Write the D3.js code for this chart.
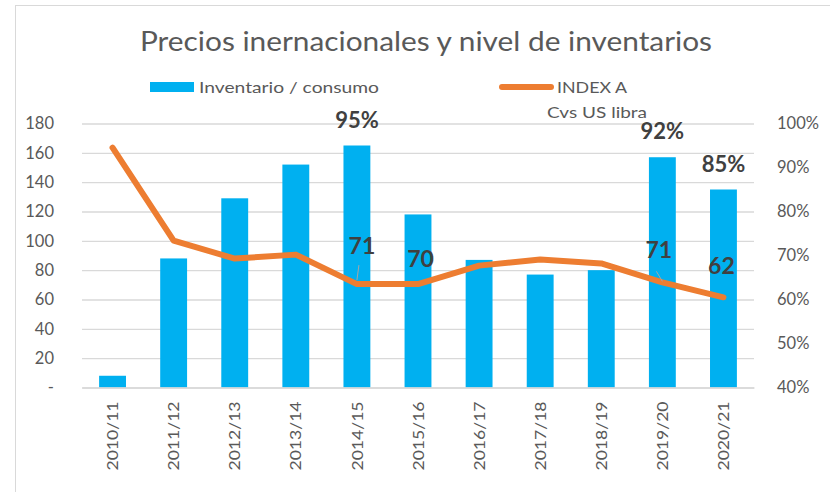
<!DOCTYPE html>
<html>
<head>
<meta charset="utf-8">
<script src="https://cdn.jsdelivr.net/npm/d3@7"></script>
<style>
  body { margin: 0; background: #fff; }
  svg { font-family: Lato, "Open Sans", sans-serif; }
</style>
</head>
<body>
<svg id="chart" width="830" height="492"></svg>
<script>
// ******************** Data ************************
var seasons = ["2010/11", "2011/12", "2012/13", "2013/14", "2014/15", "2015/16",
               "2016/17", "2017/18", "2018/19", "2019/20", "2020/21"];
var inventario = [8, 88, 129, 152, 165, 118, 87, 77, 80, 157, 135];
var indexA = [94.5, 73.4, 69.3, 70.2, 63.5, 63.5, 67.7, 69.1, 68.2, 63.9, 60.5];
var leftTicks = [0, 20, 40, 60, 80, 100, 120, 140, 160, 180];
var rightTicks = [40, 50, 60, 70, 80, 90, 100];
// labels drawn on the chart
var pctLabels = [["2014/15", "95%"], ["2019/20", "92%"], ["2020/21", "85%"]];
var priceLabels = [["2014/15", "71"], ["2015/16", "70"], ["2019/20", "71"], ["2020/21", "62"]];

// ******************** Scales ************************
var svg = d3.select("#chart");
var x = d3.scaleBand().domain(seasons).range([82, 754]).paddingInner(0.56).paddingOuter(0.28);
var yL = d3.scaleLinear().domain([0, 180]).range([387.5, 123.5]);
var yR = d3.scaleLinear().domain([40, 100]).range([387.5, 123.5]);
var grey = "#595959";

// outer frame
svg.append("rect")
    .attr("x", 15.5).attr("y", 5.5).attr("width", 830).attr("height", 500)
    .attr("fill", "none").attr("stroke", "#d9d9d9");

// title
svg.append("text")
    .attr("x", 140).attr("y", 51)
    .attr("font-size", 26).attr("fill", grey)
    .attr("textLength", 572).attr("lengthAdjust", "spacingAndGlyphs")
    .text("Precios inernacionales y nivel de inventarios");

// legend
var lg = svg.append("g");
lg.append("rect").attr("x", 150).attr("y", 82).attr("width", 44).attr("height", 10).attr("fill", "#00b0f0");
lg.append("text").attr("x", 199).attr("y", 93).attr("font-size", 16).attr("fill", grey)
    .attr("textLength", 180).attr("lengthAdjust", "spacingAndGlyphs").text("Inventario / consumo");
lg.append("line").attr("x1", 502).attr("x2", 551).attr("y1", 87).attr("y2", 87)
    .attr("stroke", "#ed7d31").attr("stroke-width", 6).attr("stroke-linecap", "round");
lg.append("text").attr("x", 557).attr("y", 93).attr("font-size", 16).attr("fill", grey)
    .attr("textLength", 70).attr("lengthAdjust", "spacingAndGlyphs").text("INDEX A");
lg.append("text").attr("x", 547).attr("y", 118).attr("font-size", 16).attr("fill", grey)
    .attr("textLength", 100).attr("lengthAdjust", "spacingAndGlyphs").text("Cvs US libra");

// gridlines
svg.append("g")
    .attr("transform", "translate(82,0)")
    .call(d3.axisLeft(yL).tickValues(leftTicks).tickSize(-672).tickFormat(""))
    .call(function (g) {
        g.select(".domain").remove();
        g.selectAll("line").attr("stroke", "#d9d9d9").attr("stroke-width", 1.3);
    });

// left axis
svg.append("g")
    .attr("transform", "translate(57,0)")
    .call(d3.axisLeft(yL).tickValues(leftTicks).tickSize(0)
        .tickFormat(function (d) { return d === 0 ? "-" : d; }))
    .call(function (g) {
        g.select(".domain").remove();
        g.selectAll("text").attr("font-size", 16.5).attr("fill", grey).attr("font-family", "Lato");
    });

// right axis
svg.append("g")
    .attr("transform", "translate(774,0)")
    .call(d3.axisRight(yR).tickValues(rightTicks).tickSize(0)
        .tickFormat(function (d) { return d + "%"; }))
    .call(function (g) {
        g.select(".domain").remove();
        g.selectAll("text").attr("font-size", 16.5).attr("fill", grey).attr("font-family", "Lato");
    });

// bars
svg.append("g").selectAll("rect")
    .data(seasons)
    .enter()
    .append("rect")
    .attr("x", function (d) { return x(d); })
    .attr("width", x.bandwidth())
    .attr("y", function (d, i) { return yL(inventario[i]); })
    .attr("height", function (d, i) { return yL(0) - yL(inventario[i]); })
    .attr("fill", "#00b0f0");

// x axis
svg.append("g")
    .attr("transform", "translate(0,387.5)")
    .call(d3.axisBottom(x).tickSize(0))
    .call(function (g) {
        g.select(".domain").attr("stroke", "#d9d9d9").attr("stroke-width", 1.3);
        g.selectAll("text")
            .attr("font-size", 16).attr("fill", grey).attr("font-family", "Lato")
            .attr("transform", "rotate(-90)")
            .attr("text-anchor", "end")
            .attr("textLength", 69).attr("lengthAdjust", "spacingAndGlyphs")
            .attr("x", -14).attr("y", 0).attr("dy", "0.35em");
    });

// INDEX A line
var cx = function (d) { return x(d) + x.bandwidth() / 2; };
var line = d3.line()
    .x(function (d, i) { return cx(seasons[i]); })
    .y(function (d) { return yR(d); });
svg.append("path")
    .datum(indexA)
    .attr("d", line)
    .attr("fill", "none")
    .attr("stroke", "#ed7d31")
    .attr("stroke-width", 6)
    .attr("stroke-linecap", "round")
    .attr("stroke-linejoin", "round");

// percentage labels above bars
svg.append("g").selectAll("text")
    .data(pctLabels)
    .enter()
    .append("text")
    .attr("x", function (d) { return cx(d[0]); })
    .attr("y", function (d) { return yL(inventario[seasons.indexOf(d[0])]) - 18; })
    .attr("text-anchor", "middle")
    .attr("font-size", 22).attr("font-weight", "bold").attr("fill", "#404040")
    .text(function (d) { return d[1]; });

// price labels near line
var offs = { "2014/15": [5, -30], "2015/16": [2.5, -17], "2019/20": [-3.5, -24], "2020/21": [-2, -23] };
var pl = svg.append("g").selectAll("g")
    .data(priceLabels)
    .enter()
    .append("g");
pl.append("text")
    .attr("x", function (d) { return cx(d[0]) + offs[d[0]][0]; })
    .attr("y", function (d) { return yR(indexA[seasons.indexOf(d[0])]) + offs[d[0]][1]; })
    .attr("text-anchor", "middle")
    .attr("font-size", 23).attr("font-weight", "bold").attr("fill", "#404040")
    .text(function (d) { return d[1]; });
// small leader lines
var leaders = { "2014/15": [2, -19, 0, -4], "2019/20": [-6, -11, 0, -1] };
pl.filter(function (d) { return leaders[d[0]]; })
    .append("line")
    .attr("x1", function (d) { return cx(d[0]) + leaders[d[0]][0]; })
    .attr("y1", function (d) { return yR(indexA[seasons.indexOf(d[0])]) + leaders[d[0]][1]; })
    .attr("x2", function (d) { return cx(d[0]) + leaders[d[0]][2]; })
    .attr("y2", function (d) { return yR(indexA[seasons.indexOf(d[0])]) + leaders[d[0]][3]; })
    .attr("stroke", "#a6a6a6").attr("stroke-width", 1);
</script>
</body>
</html>
